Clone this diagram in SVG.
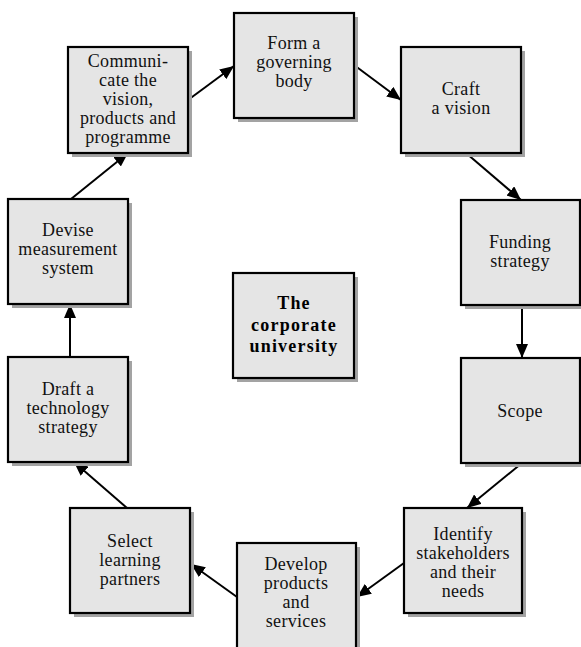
<svg xmlns="http://www.w3.org/2000/svg" width="581" height="647" viewBox="0 0 581 647">
<defs>
<marker id="ah" viewBox="0 0 14 12" refX="14" refY="6" markerWidth="14" markerHeight="12" markerUnits="userSpaceOnUse" orient="auto">
<path d="M0,0 L14,6 L0,12 Z" fill="#000"/>
</marker>
</defs>
<style>
.sh{fill:#a3a3a3;}
.bx{fill:#e5e5e5;stroke:#000;stroke-width:2.2;}
.t{font-family:"Liberation Serif","Times New Roman",serif;font-size:18px;letter-spacing:0.3px;fill:#111;text-anchor:middle;}
.tb{font-family:"Liberation Serif","Times New Roman",serif;font-size:18px;font-weight:bold;letter-spacing:1.2px;fill:#000;text-anchor:middle;}
.c{stroke:#000;stroke-width:2;fill:none;marker-end:url(#ah);}
</style>
<rect width="581" height="647" fill="#fff"/>
<g id="connectors">
<line class="c" x1="188" y1="100" x2="234" y2="66"/>
<line class="c" x1="354" y1="65" x2="401" y2="100"/>
<line class="c" x1="466" y1="153" x2="521" y2="200"/>
<line class="c" x1="522" y1="305" x2="522" y2="358"/>
<line class="c" x1="522" y1="463" x2="467" y2="508"/>
<line class="c" x1="404" y1="563" x2="357" y2="597"/>
<line class="c" x1="237" y1="597" x2="191" y2="564"/>
<line class="c" x1="127" y1="508" x2="74" y2="462"/>
<line class="c" x1="70" y1="357" x2="70" y2="304"/>
<line class="c" x1="71" y1="199" x2="128" y2="153"/>
</g>
<g id="form">
<rect class="sh" x="238" y="17" width="120" height="105"/>
<rect class="bx" x="234" y="13" width="120" height="105"/>
<text class="t" x="294" y="49">Form a</text>
<text class="t" x="294" y="68">governing</text>
<text class="t" x="294" y="87">body</text>
</g>
<g id="craft">
<rect class="sh" x="405" y="51" width="120" height="106"/>
<rect class="bx" x="401" y="47" width="120" height="106"/>
<text class="t" x="461" y="95">Craft</text>
<text class="t" x="461" y="114">a vision</text>
</g>
<g id="funding">
<rect class="sh" x="465" y="204" width="119" height="105"/>
<rect class="bx" x="461" y="200" width="119" height="105"/>
<text class="t" x="520" y="248">Funding</text>
<text class="t" x="520" y="267">strategy</text>
</g>
<g id="scope">
<rect class="sh" x="465" y="362" width="119" height="105"/>
<rect class="bx" x="461" y="358" width="119" height="105"/>
<text class="t" x="520" y="417">Scope</text>
</g>
<g id="identify">
<rect class="sh" x="408" y="512" width="118" height="105"/>
<rect class="bx" x="404" y="508" width="118" height="105"/>
<text class="t" x="463" y="540">Identify</text>
<text class="t" x="463" y="559">stakeholders</text>
<text class="t" x="463" y="578">and their</text>
<text class="t" x="463" y="597">needs</text>
</g>
<g id="develop">
<rect class="sh" x="241" y="547" width="119" height="110"/>
<rect class="bx" x="237" y="543" width="119" height="110"/>
<text class="t" x="296" y="570">Develop</text>
<text class="t" x="296" y="589">products</text>
<text class="t" x="296" y="608">and</text>
<text class="t" x="296" y="627">services</text>
</g>
<g id="select">
<rect class="sh" x="74" y="512" width="120" height="105"/>
<rect class="bx" x="70" y="508" width="120" height="105"/>
<text class="t" x="130" y="547">Select</text>
<text class="t" x="130" y="566">learning</text>
<text class="t" x="130" y="585">partners</text>
</g>
<g id="draft">
<rect class="sh" x="12" y="361" width="120" height="105"/>
<rect class="bx" x="8" y="357" width="120" height="105"/>
<text class="t" x="68" y="395">Draft a</text>
<text class="t" x="68" y="414">technology</text>
<text class="t" x="68" y="433">strategy</text>
</g>
<g id="devise">
<rect class="sh" x="12" y="203" width="120" height="105"/>
<rect class="bx" x="8" y="199" width="120" height="105"/>
<text class="t" x="68" y="236">Devise</text>
<text class="t" x="68" y="255">measurement</text>
<text class="t" x="68" y="274">system</text>
</g>
<g id="communicate">
<rect class="sh" x="72" y="51" width="120" height="106"/>
<rect class="bx" x="68" y="47" width="120" height="106"/>
<text class="t" x="128" y="67">Communi-</text>
<text class="t" x="128" y="86">cate the</text>
<text class="t" x="128" y="105">vision,</text>
<text class="t" x="128" y="124">products and</text>
<text class="t" x="128" y="143">programme</text>
</g>
<g id="center">
<rect class="sh" x="237" y="277" width="121" height="105"/>
<rect class="bx" x="233" y="273" width="121" height="105"/>
<text class="tb" x="294" y="309">The</text>
<text class="tb" x="294" y="331">corporate</text>
<text class="tb" x="294" y="352">university</text>
</g>
</svg>
